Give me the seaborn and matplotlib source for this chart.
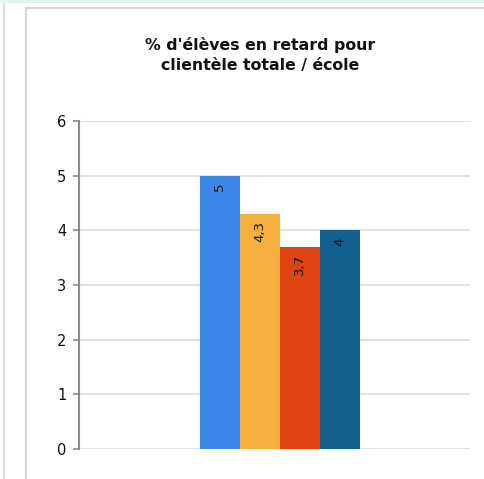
import matplotlib.pyplot as plt
from matplotlib.lines import Line2D
import seaborn as sns

TITLE = "% d'élèves en retard pour\nclientèle totale / école"
categories = ["Série 1", "Série 2", "Série 3", "Série 4"]
values = [5.0, 4.3, 3.7, 4.0]
value_labels = ["5", "4,3", "3,7", "4"]
colors = ["#3d88e9", "#f6ae3f", "#df430f", "#13618f"]
yticks = [0, 1, 2, 3, 4, 5, 6]

sns.set_style("white")
plt.rcParams['font.family'] = ['DejaVu Sans']

fig = plt.figure(figsize=(4.84, 4.79), dpi=100)
ax = fig.add_axes([0.163, 0.0626, 0.808, 0.6846])

sns.barplot(x=categories, y=values, hue=categories, palette=colors,
            width=1, legend=False, saturation=1, linewidth=0, ax=ax)

for i, (v, lab) in enumerate(zip(values, value_labels)):
    ax.text(i, v - 0.13, lab, rotation=90, ha='center', va='top',
            fontsize=9.5, color='#111111')

ax.set_xlim(-3.525, 6.25)
ax.set_ylim(0, 6)
ax.set_yticks(yticks)
ax.set_yticklabels([str(t) for t in yticks], fontsize=10.5, color='#111111')
ax.set_xticks([])
ax.set_xlabel('')
ax.set_ylabel('')
ax.yaxis.grid(True, color='#dcdcdc', linewidth=1.2)
ax.set_axisbelow(True)
for s in ['top', 'right', 'bottom']:
    ax.spines[s].set_visible(False)
ax.spines['left'].set_color('#8c8c8c')
ax.spines['left'].set_linewidth(1.5)
ax.tick_params(axis='y', left=True, length=4, width=1.2, color='#8c8c8c', pad=5)

fig.text(0.538, 0.885, TITLE, ha='center', va='center', fontsize=11.3,
         fontweight='bold', linespacing=1.4, color='#111111')

# frame of the original screenshot
fig.add_artist(Line2D([4 / 484, 4 / 484], [0, 1], color='#dddddd', lw=1.5))
fig.add_artist(Line2D([26 / 484, 26 / 484], [0, 1 - 8 / 479], color='#d5d5d5', lw=1.5))
fig.add_artist(Line2D([26 / 484, 1], [1 - 8 / 479, 1 - 8 / 479], color='#d5d5d5', lw=1.5))
fig.add_artist(Line2D([0, 1], [1 - 1 / 479, 1 - 1 / 479], color='#e0f4f2', lw=2))

fig.savefig('out.png', dpi=100)
